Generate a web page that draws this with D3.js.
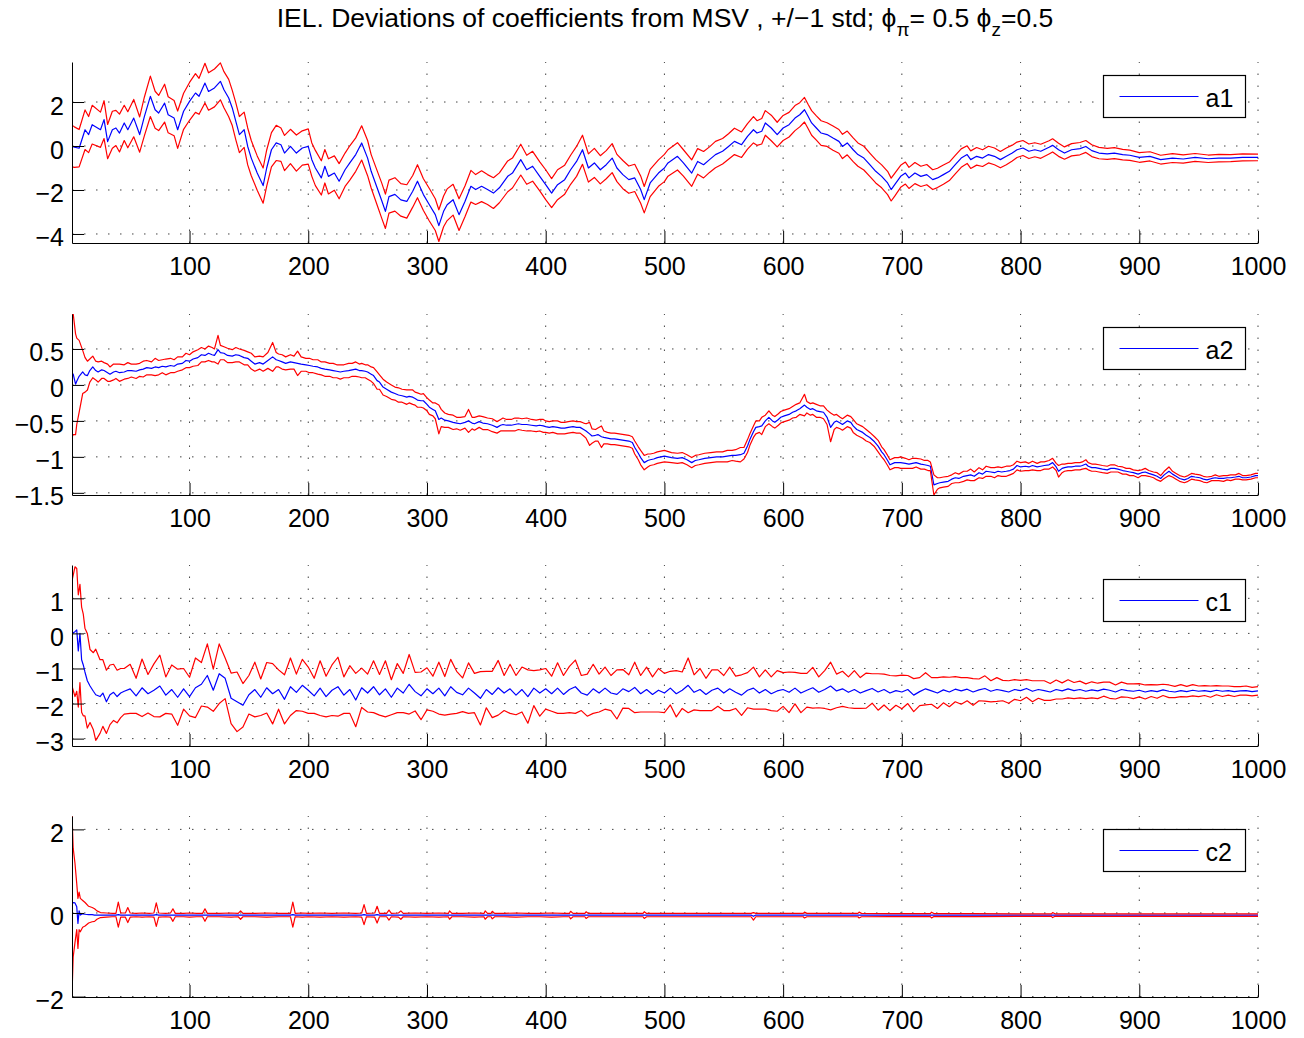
<!DOCTYPE html>
<html>
<head>
<meta charset="utf-8">
<script src="https://cdn.jsdelivr.net/npm/d3@7"></script>
<style>
  body { margin: 0; background: #fff; }
  text { font-family: "Liberation Sans", Arial, Helvetica, sans-serif; fill: #000; }
</style>
</head>
<body>
<svg id="fig" width="1304" height="1038"></svg>
<script>
// Sample index axis shared by all four subplots
const xLimits = [1, 1000];
const xTicks = [100, 200, 300, 400, 500, 600, 700, 800, 900, 1000];

// Per-coefficient axis limits and tick values
const a1Limits = [-4.41, 3.82];
const a1Ticks = [-4, -2, 0, 2];
const a2Limits = [-1.53, 0.986];
const a2Ticks = [-1.5, -1, -0.5, 0, 0.5];
const c1Limits = [-3.21, 1.95];
const c1Ticks = [-3, -2, -1, 0, 1];
const c2Limits = [-2.01, 2.32];
const c2Ticks = [-2, 0, 2];

// a1: [t, mean deviation, std]
const a1Rows = [[1,0.0,0.95],[3,-0.05,0.92],[7,-0.1,0.85],[12,0.74,0.9],[15,0.52,0.82],[18,0.97,0.88],[25,0.74,0.8],[28,1.2,0.86],[31,0.2,0.78],[35,0.74,0.84],[38,0.82,0.8],[41,0.59,0.86],[45,1.05,0.8],[48,0.74,0.82],[53,1.27,0.85],[58,0.52,0.8],[62,1.35,0.88],[67,2.26,0.92],[71,1.65,0.84],[74,1.5,0.8],[79,1.95,0.86],[82,1.42,0.82],[87,1.27,0.8],[90,0.74,0.85],[95,1.58,0.82],[100,2.03,0.86],[105,2.41,0.88],[108,2.26,0.82],[113,2.86,0.9],[116,2.48,0.85],[121,2.64,0.86],[126,2.94,0.84],[129,2.56,0.82],[133,2.18,0.85],[136,1.73,0.8],[139,1.12,0.84],[142,0.52,0.82],[146,0.74,0.8],[149,-0.02,0.84],[152,-0.55,0.8],[157,-1.23,0.78],[162,-1.8,0.8],[165,-1.0,0.82],[169,-0.17,0.78],[173,0.14,0.8],[177,0.06,0.76],[180,-0.32,0.8],[185,-0.02,0.78],[190,-0.32,0.82],[195,-0.09,0.78],[200,-0.02,0.8],[203,-0.62,0.76],[206,-1.0,0.8],[211,-1.45,0.78],[214,-0.92,0.76],[217,-1.38,0.8],[222,-1.23,0.78],[226,-1.6,0.8],[231,-1.08,0.76],[235,-0.77,0.78],[240,-0.39,0.76],[245,0.14,0.78],[250,-0.55,0.8],[253,-1.15,0.76],[258,-1.9,0.78],[262,-2.5,0.8],[265,-2.97,0.78],[268,-2.3,0.75],[273,-2.2,0.76],[278,-2.45,0.74],[283,-2.52,0.76],[288,-2.06,0.72],[292,-1.6,0.75],[297,-2.21,0.72],[302,-2.67,0.74],[307,-3.12,0.72],[310,-3.62,0.72],[314,-2.97,0.7],[317,-2.67,0.72],[322,-2.44,0.7],[327,-3.12,0.72],[332,-2.52,0.7],[337,-1.83,0.72],[341,-1.98,0.68],[346,-1.83,0.7],[351,-1.98,0.68],[356,-2.14,0.7],[361,-1.9,0.68],[368,-1.38,0.7],[372,-1.23,0.68],[379,-0.62,0.7],[384,-1.08,0.66],[389,-0.92,0.68],[395,-1.38,0.66],[400,-1.76,0.68],[405,-2.14,0.66],[410,-1.76,0.68],[416,-1.53,0.66],[421,-1.08,0.66],[426,-0.7,0.68],[431,-0.17,0.66],[436,-1.0,0.64],[441,-0.77,0.66],[446,-1.08,0.64],[451,-0.85,0.64],[456,-0.55,0.66],[460,-1.0,0.62],[465,-1.3,0.64],[470,-1.53,0.62],[475,-1.45,0.62],[480,-1.98,0.62],[483,-2.44,0.6],[488,-1.68,0.62],[495,-1.23,0.6],[500,-1.0,0.62],[503,-0.77,0.6],[511,-0.47,0.62],[516,-0.77,0.6],[523,-1.23,0.6],[528,-0.7,0.58],[533,-0.85,0.6],[538,-0.62,0.58],[543,-0.39,0.6],[549,-0.24,0.58],[554,-0.02,0.58],[559,0.21,0.6],[565,0.06,0.58],[570,0.44,0.58],[575,0.74,0.6],[578,0.59,0.56],[582,0.67,0.58],[585,1.05,0.56],[590,0.82,0.58],[595,0.52,0.56],[600,0.82,0.57],[605,0.97,0.56],[610,1.27,0.57],[614,1.42,0.55],[618,1.65,0.56],[621,1.35,0.55],[624,1.05,0.56],[628,0.82,0.55],[632,0.59,0.56],[637,0.52,0.54],[642,0.36,0.55],[647,0.21,0.54],[650,-0.02,0.55],[654,0.14,0.54],[659,-0.17,0.54],[663,-0.39,0.53],[668,-0.55,0.54],[673,-0.85,0.53],[678,-1.15,0.53],[683,-1.38,0.52],[688,-1.68,0.53],[691,-1.98,0.52],[694,-1.76,0.52],[699,-1.38,0.5],[703,-1.23,0.5],[706,-1.45,0.48],[711,-1.23,0.48],[716,-1.38,0.46],[721,-1.3,0.46],[726,-1.53,0.45],[730,-1.45,0.44],[735,-1.3,0.44],[740,-1.15,0.42],[745,-0.85,0.42],[750,-0.55,0.42],[755,-0.39,0.4],[758,-0.62,0.4],[763,-0.47,0.4],[768,-0.55,0.38],[773,-0.39,0.38],[778,-0.47,0.38],[783,-0.62,0.37],[788,-0.47,0.38],[793,-0.32,0.36],[797,-0.17,0.35],[802,-0.09,0.34],[807,-0.24,0.33],[812,-0.17,0.32],[817,-0.24,0.32],[824,-0.06,0.3],[827,0.03,0.3],[832,-0.17,0.3],[837,-0.32,0.28],[843,-0.17,0.28],[850,-0.12,0.28],[855,-0.02,0.27],[860,-0.21,0.27],[866,-0.32,0.26],[873,-0.36,0.25],[879,-0.32,0.25],[886,-0.39,0.24],[892,-0.42,0.23],[900,-0.52,0.22],[909,-0.47,0.21],[918,-0.62,0.2],[928,-0.55,0.2],[937,-0.59,0.19],[947,-0.52,0.18],[958,-0.58,0.17],[967,-0.55,0.17],[977,-0.55,0.16],[987,-0.52,0.16],[1000,-0.52,0.15]];

// a2: [t, mean deviation, std]
const a2Rows = [[1,0.12,0.85],[2,0.15,0.84],[4,0.01,0.7],[5,0.05,0.6],[7,0.12,0.5],[10,0.18,0.3],[12,0.14,0.24],[14,0.13,0.2],[16,0.2,0.16],[18.5,0.25,0.15],[21,0.2,0.13],[23,0.18,0.14],[26,0.21,0.12],[28,0.2,0.11],[31,0.17,0.12],[33,0.15,0.1],[36,0.18,0.11],[38,0.19,0.1],[41,0.17,0.12],[45,0.18,0.1],[48,0.2,0.11],[51,0.2,0.09],[55,0.19,0.1],[58,0.21,0.09],[61,0.22,0.11],[64,0.24,0.1],[68,0.23,0.09],[71,0.25,0.12],[74,0.24,0.1],[77,0.26,0.09],[80,0.25,0.11],[84,0.27,0.1],[87,0.26,0.09],[90,0.29,0.1],[94,0.3,0.09],[97,0.34,0.1],[100,0.33,0.09],[103,0.36,0.1],[107,0.38,0.11],[110,0.42,0.1],[113,0.41,0.09],[116,0.44,0.1],[119,0.42,0.1],[121,0.41,0.09],[124,0.49,0.2],[126,0.45,0.1],[129,0.44,0.09],[132,0.41,0.1],[136,0.4,0.09],[139,0.42,0.1],[142,0.41,0.09],[146,0.38,0.1],[149,0.37,0.09],[152,0.33,0.11],[155,0.29,0.1],[159,0.31,0.09],[162,0.29,0.1],[166,0.34,0.11],[170,0.39,0.2],[173,0.35,0.1],[175,0.34,0.09],[178,0.32,0.1],[181,0.3,0.09],[185,0.32,0.1],[188,0.31,0.09],[191,0.3,0.17],[194,0.29,0.1],[198,0.28,0.09],[201,0.27,0.1],[204,0.26,0.09],[208,0.25,0.1],[211,0.23,0.09],[214,0.22,0.1],[218,0.21,0.09],[221,0.2,0.1],[224,0.19,0.09],[227,0.18,0.1],[230,0.19,0.09],[234,0.2,0.1],[237,0.21,0.09],[240,0.22,0.1],[243,0.2,0.09],[245,0.2,0.1],[248,0.19,0.09],[250,0.18,0.1],[253,0.15,0.1],[255,0.13,0.11],[258,0.06,0.12],[260,0.04,0.1],[263,-0.03,0.11],[266,-0.06,0.1],[270,-0.1,0.1],[273,-0.12,0.09],[276,-0.14,0.1],[279,-0.15,0.09],[283,-0.17,0.1],[285,-0.16,0.09],[288,-0.17,0.1],[290,-0.19,0.09],[292,-0.21,0.1],[295,-0.22,0.09],[297,-0.22,0.1],[300,-0.27,0.09],[302,-0.31,0.1],[305,-0.34,0.09],[307,-0.36,0.11],[310,-0.48,0.2],[312,-0.46,0.12],[315,-0.49,0.1],[318,-0.5,0.09],[322,-0.52,0.1],[325,-0.53,0.08],[328,-0.54,0.09],[332,-0.52,0.08],[335,-0.5,0.16],[338,-0.53,0.08],[340,-0.54,0.09],[344,-0.51,0.08],[347,-0.53,0.09],[351,-0.54,0.08],[355,-0.56,0.09],[359,-0.59,0.08],[362,-0.56,0.08],[364,-0.55,0.09],[367,-0.56,0.08],[371,-0.56,0.08],[374,-0.55,0.09],[377,-0.54,0.08],[380,-0.55,0.08],[384,-0.55,0.09],[388,-0.56,0.08],[392,-0.57,0.08],[395,-0.56,0.08],[398,-0.57,0.09],[400,-0.58,0.08],[403,-0.59,0.08],[406,-0.58,0.08],[410,-0.59,0.09],[413,-0.6,0.08],[416,-0.6,0.08],[419,-0.59,0.08],[423,-0.58,0.08],[426,-0.59,0.08],[429,-0.59,0.08],[432,-0.62,0.09],[434,-0.64,0.1],[437,-0.68,0.16],[439,-0.71,0.1],[442,-0.7,0.08],[444,-0.69,0.09],[447,-0.72,0.15],[449,-0.73,0.09],[452,-0.74,0.08],[455,-0.75,0.08],[458,-0.75,0.08],[462,-0.76,0.08],[466,-0.77,0.08],[470,-0.78,0.08],[473,-0.8,0.08],[475,-0.87,0.09],[478,-0.95,0.09],[480,-1.01,0.1],[483,-1.08,0.1],[486,-1.05,0.09],[488,-1.04,0.08],[491,-1.03,0.08],[494,-1.01,0.08],[497,-1.0,0.08],[500,-0.99,0.08],[506,-1.01,0.07],[511,-1.02,0.07],[515,-1.01,0.07],[519,-1.04,0.07],[523,-1.08,0.07],[526,-1.05,0.07],[529,-1.04,0.07],[534,-1.02,0.07],[539,-1.01,0.07],[544,-1.0,0.07],[549,-1.0,0.07],[553,-0.99,0.08],[557,-0.98,0.07],[560,-0.98,0.08],[564,-0.97,0.1],[567,-0.95,0.08],[570,-0.85,0.09],[572,-0.76,0.08],[575,-0.65,0.08],[577,-0.59,0.09],[580,-0.58,0.08],[582,-0.57,0.12],[585,-0.5,0.08],[588,-0.45,0.09],[591,-0.5,0.08],[593,-0.52,0.08],[596,-0.48,0.08],[598,-0.45,0.08],[601,-0.43,0.08],[605,-0.41,0.08],[608,-0.38,0.08],[611,-0.36,0.09],[614,-0.33,0.08],[618,-0.28,0.15],[620,-0.31,0.08],[623,-0.34,0.08],[625,-0.33,0.08],[628,-0.36,0.09],[631,-0.37,0.08],[634,-0.38,0.09],[637,-0.45,0.1],[640,-0.59,0.2],[643,-0.52,0.1],[645,-0.5,0.09],[648,-0.53,0.08],[650,-0.55,0.08],[654,-0.5,0.08],[657,-0.52,0.08],[659,-0.57,0.09],[662,-0.62,0.08],[667,-0.66,0.08],[670,-0.7,0.08],[673,-0.73,0.07],[677,-0.79,0.07],[680,-0.85,0.08],[683,-0.93,0.07],[685,-0.97,0.07],[688,-1.05,0.07],[690,-1.11,0.07],[694,-1.08,0.07],[697,-1.08,0.07],[699,-1.08,0.08],[703,-1.09,0.07],[706,-1.1,0.06],[709,-1.09,0.07],[712,-1.08,0.06],[716,-1.1,0.07],[719,-1.11,0.06],[722,-1.12,0.07],[724,-1.13,0.06],[727,-1.39,0.14],[730,-1.37,0.08],[732,-1.36,0.07],[735,-1.35,0.07],[739,-1.34,0.07],[742,-1.31,0.06],[745,-1.29,0.07],[748,-1.3,0.06],[752,-1.27,0.07],[755,-1.26,0.06],[758,-1.25,0.08],[761,-1.27,0.06],[765,-1.22,0.07],[768,-1.24,0.06],[771,-1.2,0.07],[775,-1.21,0.06],[778,-1.22,0.07],[781,-1.2,0.06],[784,-1.21,0.06],[788,-1.2,0.07],[791,-1.19,0.06],[794,-1.17,0.06],[797,-1.12,0.06],[800,-1.14,0.06],[804,-1.13,0.06],[807,-1.14,0.05],[810,-1.12,0.06],[814,-1.14,0.05],[817,-1.13,0.06],[820,-1.12,0.05],[824,-1.11,0.06],[827,-1.08,0.06],[830,-1.14,0.05],[832,-1.2,0.08],[835,-1.16,0.06],[837,-1.15,0.05],[840,-1.14,0.05],[843,-1.14,0.05],[846,-1.13,0.05],[850,-1.13,0.05],[852,-1.12,0.05],[855,-1.1,0.06],[857,-1.13,0.05],[860,-1.15,0.05],[863,-1.15,0.05],[866,-1.16,0.05],[869,-1.17,0.05],[873,-1.18,0.05],[876,-1.16,0.05],[879,-1.16,0.05],[882,-1.17,0.04],[886,-1.19,0.05],[889,-1.2,0.04],[892,-1.21,0.05],[895,-1.22,0.04],[899,-1.24,0.05],[902,-1.22,0.04],[905,-1.21,0.05],[908,-1.23,0.04],[912,-1.25,0.04],[915,-1.27,0.05],[918,-1.3,0.04],[921,-1.25,0.05],[925,-1.2,0.06],[928,-1.24,0.04],[931,-1.27,0.04],[934,-1.3,0.04],[938,-1.32,0.04],[941,-1.3,0.04],[944,-1.27,0.04],[947,-1.28,0.04],[951,-1.29,0.04],[954,-1.31,0.04],[957,-1.32,0.04],[961,-1.3,0.03],[964,-1.29,0.04],[967,-1.3,0.03],[971,-1.3,0.04],[974,-1.29,0.03],[977,-1.29,0.04],[981,-1.28,0.03],[984,-1.27,0.04],[987,-1.29,0.03],[990,-1.29,0.03],[994,-1.28,0.03],[998,-1.26,0.03],[1000,-1.26,0.03]];

// c1: first transient samples [t, mean deviation, std], then samples every 5 steps from t = 50
const c1Head = [[1,0.0,1.5],[3.5,0.05,1.85],[5,0.1,1.75],[6.3,-0.5,1.6],[7.7,0.0,1.4],[9.1,-0.75,1.5],[10.5,-0.9,1.45],[11.9,-1.1,1.25],[13.9,-1.35,1.35],[16.2,-1.5,1.04],[19,-1.65,1.1],[21,-1.75,1.3],[24.6,-1.8,1.05],[27,-1.7,0.95],[30,-1.95,0.9],[33,-1.75,0.85],[36,-1.68,0.8],[39,-1.8,0.75],[42,-1.7,0.7],[45,-1.65,0.65]];
const c1Start = 50;
const c1Step = 5;
const c1Mean = [
  -1.58,-1.78,-1.55,-1.72,-1.62,-1.5,-1.76,-1.6,-1.82,-1.58,
  -1.8,-1.55,-1.45,-1.2,-1.62,-1.15,-1.28,-1.85,-1.95,-2.05,
  -1.75,-1.6,-1.82,-1.55,-1.72,-1.6,-1.88,-1.52,-1.68,-1.48,
  -1.62,-1.78,-1.56,-1.8,-1.62,-1.52,-1.76,-1.6,-1.9,-1.55,
  -1.7,-1.52,-1.75,-1.58,-1.82,-1.56,-1.7,-1.45,-1.66,-1.78,
  -1.58,-1.72,-1.56,-1.78,-1.52,-1.68,-1.75,-1.56,-1.7,-1.85,
  -1.6,-1.74,-1.55,-1.7,-1.58,-1.76,-1.6,-1.8,-1.56,-1.7,
  -1.58,-1.72,-1.56,-1.74,-1.6,-1.52,-1.7,-1.76,-1.58,-1.7,
  -1.56,-1.7,-1.74,-1.58,-1.66,-1.54,-1.72,-1.6,-1.74,-1.62,
  -1.7,-1.56,-1.72,-1.62,-1.48,-1.68,-1.6,-1.74,-1.62,-1.56,
  -1.7,-1.58,-1.68,-1.76,-1.62,-1.56,-1.7,-1.6,-1.72,-1.64,
  -1.6,-1.68,-1.56,-1.7,-1.62,-1.55,-1.68,-1.6,-1.5,-1.64,
  -1.58,-1.68,-1.6,-1.7,-1.63,-1.57,-1.67,-1.6,-1.7,-1.63,
  -1.67,-1.6,-1.76,-1.66,-1.58,-1.64,-1.7,-1.61,-1.67,-1.59,
  -1.64,-1.59,-1.67,-1.61,-1.57,-1.65,-1.6,-1.63,-1.67,-1.6,
  -1.63,-1.57,-1.65,-1.6,-1.63,-1.67,-1.6,-1.64,-1.58,-1.63,
  -1.6,-1.65,-1.61,-1.64,-1.59,-1.62,-1.67,-1.6,-1.63,-1.65,
  -1.62,-1.67,-1.63,-1.66,-1.61,-1.65,-1.67,-1.63,-1.66,-1.62,
  -1.65,-1.63,-1.66,-1.62,-1.65,-1.63,-1.66,-1.64,-1.63,-1.66,
  -1.64];
const c1Sd = [
  0.7,0.5,0.82,0.55,0.75,0.88,0.52,0.7,0.8,0.58,
  0.55,0.85,0.62,0.9,0.6,0.85,0.58,0.72,0.85,0.62,
  0.55,0.78,0.52,0.72,0.86,0.56,0.7,0.82,0.52,0.74,
  0.66,0.5,0.78,0.58,0.72,0.84,0.52,0.68,0.76,0.56,
  0.54,0.74,0.58,0.8,0.5,0.7,0.56,0.85,0.55,0.68,
  0.6,0.5,0.74,0.55,0.78,0.6,0.48,0.72,0.56,0.76,
  0.52,0.66,0.78,0.5,0.7,0.56,0.64,0.76,0.5,0.66,
  0.58,0.5,0.72,0.54,0.66,0.76,0.5,0.6,0.7,0.54,
  0.6,0.5,0.7,0.55,0.48,0.72,0.52,0.64,0.5,0.62,
  0.56,0.48,0.66,0.52,0.78,0.5,0.6,0.46,0.58,0.52,
  0.5,0.62,0.46,0.58,0.5,0.6,0.46,0.56,0.48,0.58,
  0.48,0.58,0.45,0.56,0.48,0.58,0.44,0.54,0.68,0.48,
  0.5,0.44,0.54,0.44,0.5,0.42,0.52,0.44,0.5,0.42,
  0.48,0.4,0.47,0.4,0.46,0.38,0.44,0.37,0.42,0.36,
  0.38,0.33,0.38,0.31,0.36,0.3,0.34,0.29,0.32,0.28,
  0.29,0.25,0.3,0.25,0.28,0.24,0.27,0.23,0.26,0.23,
  0.24,0.21,0.23,0.22,0.2,0.23,0.2,0.21,0.19,0.21,
  0.19,0.2,0.17,0.19,0.16,0.18,0.16,0.17,0.15,0.16,
  0.15,0.14,0.16,0.13,0.15,0.13,0.14,0.12,0.13,0.12,
  0.12];

// c2: [t, mean deviation, std]
const c2Rows = [[1,0.2,2.15],[2,0.25,1.3],[3.5,0.24,0.95],[5,0.15,0.55],[6,-0.25,0.6],[7,0.05,0.45],[8,-0.05,0.4],[10,-0.02,0.32],[12,-0.03,0.28],[15,-0.04,0.2],[18,-0.04,0.17],[20,-0.05,0.15],[22,-0.05,0.1],[25,-0.05,0.06],[30,-0.05,0.05],[35,-0.05,0.04],[38,-0.05,0.04],[40,-0.04,0.3],[42,-0.05,0.05],[46,-0.05,0.05],[48,-0.05,0.18],[50,-0.05,0.05],[55,-0.05,0.04],[60,-0.05,0.05],[66,-0.05,0.04],[70,-0.05,0.05],[72,-0.04,0.28],[74,-0.05,0.05],[80,-0.05,0.04],[84,-0.05,0.05],[86,-0.05,0.15],[88,-0.05,0.04],[95,-0.05,0.04],[100,-0.05,0.05],[106,-0.05,0.04],[111,-0.05,0.04],[113,-0.05,0.15],[115,-0.05,0.04],[125,-0.05,0.04],[135,-0.05,0.05],[141,-0.05,0.04],[143,-0.05,0.1],[145,-0.05,0.04],[155,-0.05,0.04],[165,-0.05,0.05],[175,-0.05,0.04],[185,-0.05,0.04],[187,-0.04,0.3],[189,-0.05,0.04],[195,-0.05,0.05],[200,-0.05,0.04],[210,-0.05,0.05],[220,-0.05,0.04],[230,-0.05,0.05],[240,-0.05,0.04],[245,-0.05,0.05],[247,-0.04,0.24],[249,-0.05,0.04],[256,-0.05,0.05],[258,-0.04,0.2],[260,-0.05,0.04],[266,-0.05,0.04],[268,-0.05,0.12],[270,-0.05,0.04],[276,-0.05,0.05],[278,-0.05,0.1],[280,-0.05,0.04],[290,-0.05,0.05],[300,-0.05,0.04],[310,-0.05,0.05],[318,-0.05,0.04],[319,-0.05,0.1],[321,-0.05,0.04],[330,-0.05,0.04],[340,-0.05,0.05],[348,-0.05,0.04],[349,-0.05,0.1],[351,-0.05,0.04],[354,-0.05,0.04],[355,-0.05,0.09],[357,-0.05,0.04],[365,-0.05,0.04],[375,-0.05,0.05],[385,-0.05,0.04],[395,-0.05,0.04],[405,-0.05,0.05],[415,-0.05,0.04],[420,-0.05,0.04],[421,-0.05,0.09],[423,-0.05,0.04],[433,-0.05,0.04],[434,-0.05,0.08],[436,-0.05,0.04],[450,-0.05,0.04],[465,-0.05,0.04],[482,-0.05,0.04],[483,-0.05,0.08],[485,-0.05,0.04],[500,-0.05,0.04],[520,-0.05,0.04],[540,-0.05,0.04],[560,-0.05,0.04],[573,-0.05,0.04],[575,-0.08,0.09],[577,-0.05,0.04],[600,-0.05,0.04],[617,-0.05,0.04],[618,-0.05,0.07],[620,-0.05,0.04],[640,-0.05,0.04],[663,-0.05,0.04],[664,-0.05,0.07],[666,-0.05,0.04],[690,-0.05,0.035],[724,-0.05,0.035],[725,-0.05,0.07],[727,-0.05,0.035],[760,-0.05,0.035],[800,-0.05,0.03],[826,-0.05,0.03],[827,-0.05,0.06],[829,-0.05,0.03],[870,-0.05,0.03],[920,-0.05,0.03],[960,-0.05,0.03],[1000,-0.05,0.03]];

const c1Rows = c1Head.concat(c1Mean.map((m, i) => [c1Start + c1Step * i, m, c1Sd[i]]));

const panels = [
  { name: "a1", rows: a1Rows, limits: a1Limits, ticks: a1Ticks, top: 62 },
  { name: "a2", rows: a2Rows, limits: a2Limits, ticks: a2Ticks, top: 314 },
  { name: "c1", rows: c1Rows, limits: c1Limits, ticks: c1Ticks, top: 565 },
  { name: "c2", rows: c2Rows, limits: c2Limits, ticks: c2Ticks, top: 816 }
];

const left = 72, right = 1258, plotH = 181;
const fontSize = 25;
const svg = d3.select("#fig");

// Figure title with phi subscripts
const title = svg.append("text")
  .attr("x", (left + right) / 2)
  .attr("y", 27)
  .attr("text-anchor", "middle")
  .style("font-size", "26.5px");
title.append("tspan").text("IEL. Deviations of coefficients from MSV , +/\u22121 std; \u03d5");
title.append("tspan").attr("dy", 9).style("font-size", "19px").text("\u03c0");
title.append("tspan").attr("dy", -9).text("= 0.5 \u03d5");
title.append("tspan").attr("dy", 9).style("font-size", "19px").text("z");
title.append("tspan").attr("dy", -9).text("=0.5");

const x = d3.scaleLinear().domain(xLimits).range([left, right]);
const fmt = d3.format("~g");

panels.forEach(p => {
  const bottom = p.top + plotH;
  const y = d3.scaleLinear().domain(p.limits).range([bottom, p.top]);
  const g = svg.append("g");

  // dotted grid
  const grid = g.append("g")
    .attr("stroke", "#444")
    .attr("stroke-width", 1)
    .attr("stroke-dasharray", "1.5,10.5")
    .attr("fill", "none");
  grid.selectAll(null).data(p.ticks).join("line")
    .attr("x1", left).attr("x2", right)
    .attr("y1", d => y(d)).attr("y2", d => y(d));
  grid.selectAll(null).data(xTicks).join("line")
    .attr("x1", d => x(d)).attr("x2", d => x(d))
    .attr("y1", bottom).attr("y2", p.top);

  // clip to the axes box
  const clipId = "clip-" + p.name;
  svg.append("clipPath").attr("id", clipId)
    .append("rect").attr("x", left).attr("y", p.top)
    .attr("width", right - left).attr("height", plotH);

  const lines = g.append("g").attr("clip-path", `url(#${clipId})`).attr("fill", "none")
    .attr("stroke-width", 1.2).attr("stroke-linejoin", "round");
  const meanLine = d3.line().x(d => x(d[0])).y(d => y(d[1]));
  const upLine = d3.line().x(d => x(d[0])).y(d => y(d[1] + d[2]));
  const loLine = d3.line().x(d => x(d[0])).y(d => y(d[1] - d[2]));
  lines.append("path").attr("d", meanLine(p.rows)).attr("stroke", "#0000ff");
  lines.append("path").attr("d", upLine(p.rows)).attr("stroke", "#ff0000");
  lines.append("path").attr("d", loLine(p.rows)).attr("stroke", "#ff0000");

  // axes (ticks pointing inward)
  const yAxis = d3.axisLeft(y).tickValues(p.ticks).tickFormat(fmt)
    .tickSizeInner(-12).tickSizeOuter(0).tickPadding(8);
  const ya = g.append("g").attr("transform", `translate(${left},0)`).call(yAxis);
  const xAxis = d3.axisBottom(x).tickValues(xTicks).tickFormat(fmt)
    .tickSizeInner(-12).tickSizeOuter(0).tickPadding(14);
  const xa = g.append("g").attr("transform", `translate(0,${bottom})`).call(xAxis);
  [ya, xa].forEach(a => {
    a.attr("font-family", null).attr("font-size", null);
    a.selectAll("text").style("font-size", fontSize + "px");
    a.selectAll("path,line").attr("stroke", "#000").attr("stroke-width", 1);
  });
  ya.selectAll("text").attr("dy", "0.48em");
  xa.selectAll("text").attr("dy", "0.71em");

  // legend: sample line kept on an even pixel row so it stays crisp
  const lineRow = Math.round((p.top + 34) / 2) * 2 + 0.5;
  const lg = g.append("g").attr("transform", `translate(1103.5,${lineRow - 21})`);
  lg.append("rect").attr("width", 142).attr("height", 42)
    .attr("fill", "#fff").attr("stroke", "#000").attr("stroke-width", 1.2);
  lg.append("line").attr("x1", 16).attr("x2", 95).attr("y1", 21).attr("y2", 21)
    .attr("stroke", "#0000ff").attr("stroke-width", 1.2);
  lg.append("text").attr("x", 102).attr("y", 31).style("font-size", fontSize + "px").text(p.name);
});
</script>
</body>
</html>
